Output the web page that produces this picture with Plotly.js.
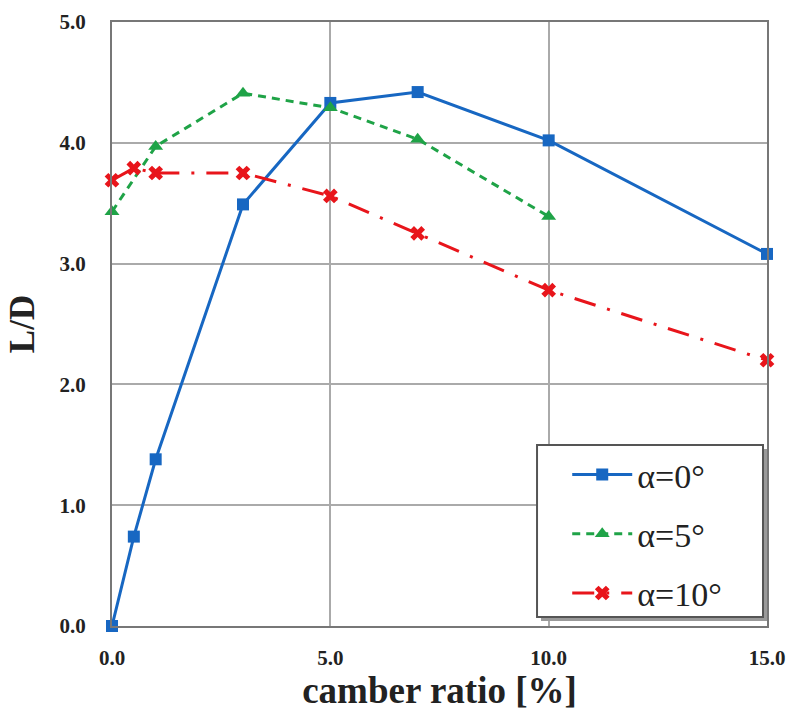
<!DOCTYPE html>
<html>
<head>
<meta charset="utf-8">
<script src="https://cdn.plot.ly/plotly-3.0.1.min.js"></script>
<style>html,body{margin:0;padding:0;background:#fff;}</style>
</head>
<body>
<div id="chart" style="width:791px;height:727px;"></div>
<script>
const camberA0 = [0, 0.5, 1, 3, 5, 7, 10, 15];
const ldA0 = [0.0, 0.74, 1.38, 3.49, 4.33, 4.42, 4.02, 3.08];
const camberA5 = [0, 1, 3, 5, 7, 10];
const ldA5 = [3.43, 3.97, 4.41, 4.29, 4.03, 3.39];
const camberA10 = [0, 0.5, 1, 3, 5, 7, 10, 15];
const ldA10 = [3.69, 3.79, 3.75, 3.75, 3.56, 3.25, 2.78, 2.20];
const seriesNames = ['α=0°', 'α=5°', 'α=10°'];
const xTicks = [0, 5, 10, 15];
const xTickText = ['0.0', '5.0', '10.0', '15.0'];
const yTicks = [0, 1, 2, 3, 4, 5];
const yTickText = ['0.0', '1.0', '2.0', '3.0', '4.0', '5.0'];

const SERIF = 'Liberation Serif';
const traces = [
  {x: camberA0, y: ldA0, name: seriesNames[0], legendgroup: 'a', mode: 'lines+markers', cliponaxis: false,
   line: {color: '#1767c2', width: 3}, marker: {symbol: 'square', size: 12, color: '#1767c2'}},
  {x: camberA5, y: ldA5, name: seriesNames[1], legendgroup: 'b', mode: 'lines+markers', cliponaxis: false,
   line: {color: '#1fa347', width: 3, dash: '8px,6px'}, marker: {symbol: 'triangle-up', size: 13, color: '#1fa347'}},
  {x: camberA10, y: ldA10, name: seriesNames[2], legendgroup: 'c', mode: 'lines+markers', cliponaxis: false,
   line: {color: '#e8151b', width: 3, dash: '22px,12px,3px,12px'},
   marker: {symbol: 'x', size: 13, color: '#e8151b', line: {width: 0}}}
];

const tickFont = {family: SERIF, size: 21, color: '#222', weight: 'bold'};
const layout = {
  width: 791, height: 727,
  margin: {l: 112, r: 24, t: 22, b: 101},
  paper_bgcolor: '#fff', plot_bgcolor: '#fff',
  showlegend: true,
  legend: {
    x: 0.695, y: 0.298, xanchor: 'left', yanchor: 'top',
    bgcolor: 'rgba(0,0,0,0)', borderwidth: 0,
    font: {family: SERIF, size: 34, color: '#222'},
    tracegroupgap: 12, traceorder: 'grouped', itemwidth: 60
  },
  shapes: [
    {type: 'rect', xref: 'paper', yref: 'paper', x0: 0.655, x1: 1.0, y0: 0.0083, y1: 0.293,
     fillcolor: '#9a9a9a', line: {width: 0}, layer: 'above'},
    {type: 'rect', xref: 'paper', yref: 'paper', x0: 0.6489, x1: 0.9939, y0: 0.0149, y1: 0.2997,
     fillcolor: '#fff', line: {color: '#555', width: 2}, layer: 'above'}
  ],
  xaxis: {
    range: [0, 15], tickvals: xTicks, ticktext: xTickText,
    showgrid: true, gridcolor: '#aaa', gridwidth: 2,
    showline: true, linecolor: '#777', linewidth: 2, mirror: true,
    zeroline: false, ticks: '', ticklabelstandoff: 12,
    tickfont: tickFont,
    title: {text: '<b>camber ratio [%]</b>', font: {family: SERIF, size: 37, color: '#222'}, standoff: 8}
  },
  yaxis: {
    range: [0, 5], tickvals: yTicks, ticktext: yTickText,
    showgrid: true, gridcolor: '#aaa', gridwidth: 2,
    showline: true, linecolor: '#777', linewidth: 2, mirror: true,
    zeroline: false, ticks: '', ticklabelstandoff: 20,
    tickfont: tickFont,
    title: {text: '<b>L/D</b>', font: {family: SERIF, size: 35, color: '#222'}, standoff: 14}
  }
};
Plotly.newPlot('chart', traces, layout, {displayModeBar: false, staticPlot: true});
</script>
</body>
</html>
